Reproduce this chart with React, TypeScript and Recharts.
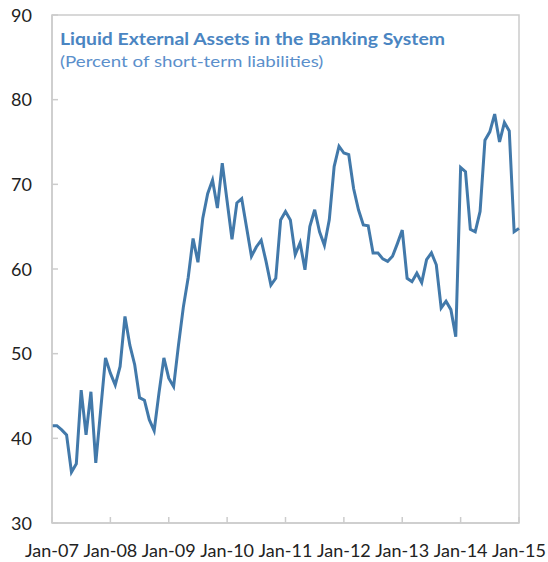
import { LineChart, Line, XAxis, YAxis, ReferenceArea } from "recharts"

const months = ["Jan", "Feb", "Mar", "Apr", "May", "Jun", "Jul", "Aug", "Sep", "Oct", "Nov", "Dec"]
const years = ["07", "08", "09", "10", "11", "12", "13", "14", "15"]

// monthly, Jan-07 .. Jan-15
const assets = [
  41.5, 41.5, 41.0, 40.4, 36.0, 37.0, 45.7, 40.4, 45.5, 37.1, 43.3, 49.5,
  47.7, 46.3, 48.5, 54.4, 51.0, 48.7, 44.8, 44.5, 42.2, 40.9, 45.4, 49.5,
  47.1, 46.1, 51.0, 55.5, 59.0, 63.6, 60.8, 66.0, 68.9, 70.5, 67.2, 72.5,
  68.0, 63.5, 67.8, 68.3, 64.9, 61.5, 62.6, 63.4, 60.9, 58.1, 58.9, 65.8,
  66.8, 65.8, 61.7, 63.1, 59.9, 65.0, 67.0, 64.4, 62.8, 65.8, 72.1, 74.5,
  73.7, 73.5, 69.5, 67.0, 65.2, 65.1, 61.9, 61.9, 61.2, 60.9, 61.5, 63.0,
  64.6, 58.9, 58.5, 59.5, 58.4, 61.1, 61.9, 60.5, 55.4, 56.2, 55.2, 52.0,
  72.0, 71.5, 64.7, 64.4, 66.8, 75.2, 76.2, 78.3, 75.0, 77.3, 76.3, 64.4,
  64.8,
]

const yTicks = [30, 40, 50, 60, 70, 80, 90]

const categories = years.flatMap((y) => months.map((m) => `${m}-${y}`)).slice(0, assets.length)
const data = categories.map((month, i) => ({ month, value: assets[i] }))

const FONT = "Lato, 'Open Sans', sans-serif"
const GRID = "#cccccc"

function YTick({ x, y, payload }: any) {
  return (
    <g>
      <line x1={x + 20} x2={x + 26} y1={y} y2={y} stroke={GRID} strokeWidth={1.5} />
      <text x={x} y={y} dy={6.5} textAnchor="end" fontSize={18} fontFamily={FONT} fill="#222">
        {payload.value}
      </text>
    </g>
  )
}

function XTick({ x, y, payload }: any) {
  return (
    <g>
      <line x1={x} x2={x} y1={y} y2={y - 6} stroke={GRID} strokeWidth={1.5} />
      <text x={x} y={y + 34} textAnchor="middle" fontSize={18} fontFamily={FONT} fill="#222">
        {payload.value}
      </text>
    </g>
  )
}

export default function App() {
  return (
    <div style={{ position: "absolute", left: 0, top: 0, width: 548, height: 562, background: "#fff" }}>
      <LineChart width={548} height={562} data={data} margin={{ top: 15, right: 29, bottom: 0, left: 0 }}>
        <XAxis
          dataKey="month"
          interval={11}
          height={39}
          tickSize={0}
          tickMargin={0}
          tick={<XTick />}
          tickLine={false}
          axisLine={{ stroke: GRID, strokeWidth: 1.5 }}
        />
        <YAxis
          type="number"
          domain={[30, 90]}
          ticks={yTicks}
          width={52}
          tickSize={0}
          tickMargin={20}
          tick={<YTick />}
          tickLine={false}
          axisLine={{ stroke: GRID, strokeWidth: 1.5 }}
        />
        <ReferenceArea
          x1={categories[0]}
          x2={categories[categories.length - 1]}
          y1={30}
          y2={90}
          fill="none"
          fillOpacity={0}
          stroke={GRID}
          strokeWidth={1.5}
        />
        <Line
          type="linear"
          dataKey="value"
          stroke="#4279aa"
          strokeWidth={3}
          dot={false}
          isAnimationActive={false}
        />
      </LineChart>
      <div
        style={{
          position: "absolute",
          left: 60,
          top: 31,
          fontFamily: FONT,
          fontWeight: 700,
          fontSize: 17,
          lineHeight: "16px",
          color: "#4a85c2",
          whiteSpace: "nowrap",
          transform: "scaleX(1.14)",
          transformOrigin: "left center",
        }}
      >
        Liquid External Assets in the Banking System
      </div>
      <div
        style={{
          position: "absolute",
          left: 60,
          top: 53,
          fontFamily: FONT,
          fontSize: 16,
          lineHeight: "16px",
          color: "#5b8fcb",
          whiteSpace: "nowrap",
          transform: "scaleX(1.17)",
          transformOrigin: "left center",
        }}
      >
        (Percent of short-term liabilities)
      </div>
    </div>
  )
}
